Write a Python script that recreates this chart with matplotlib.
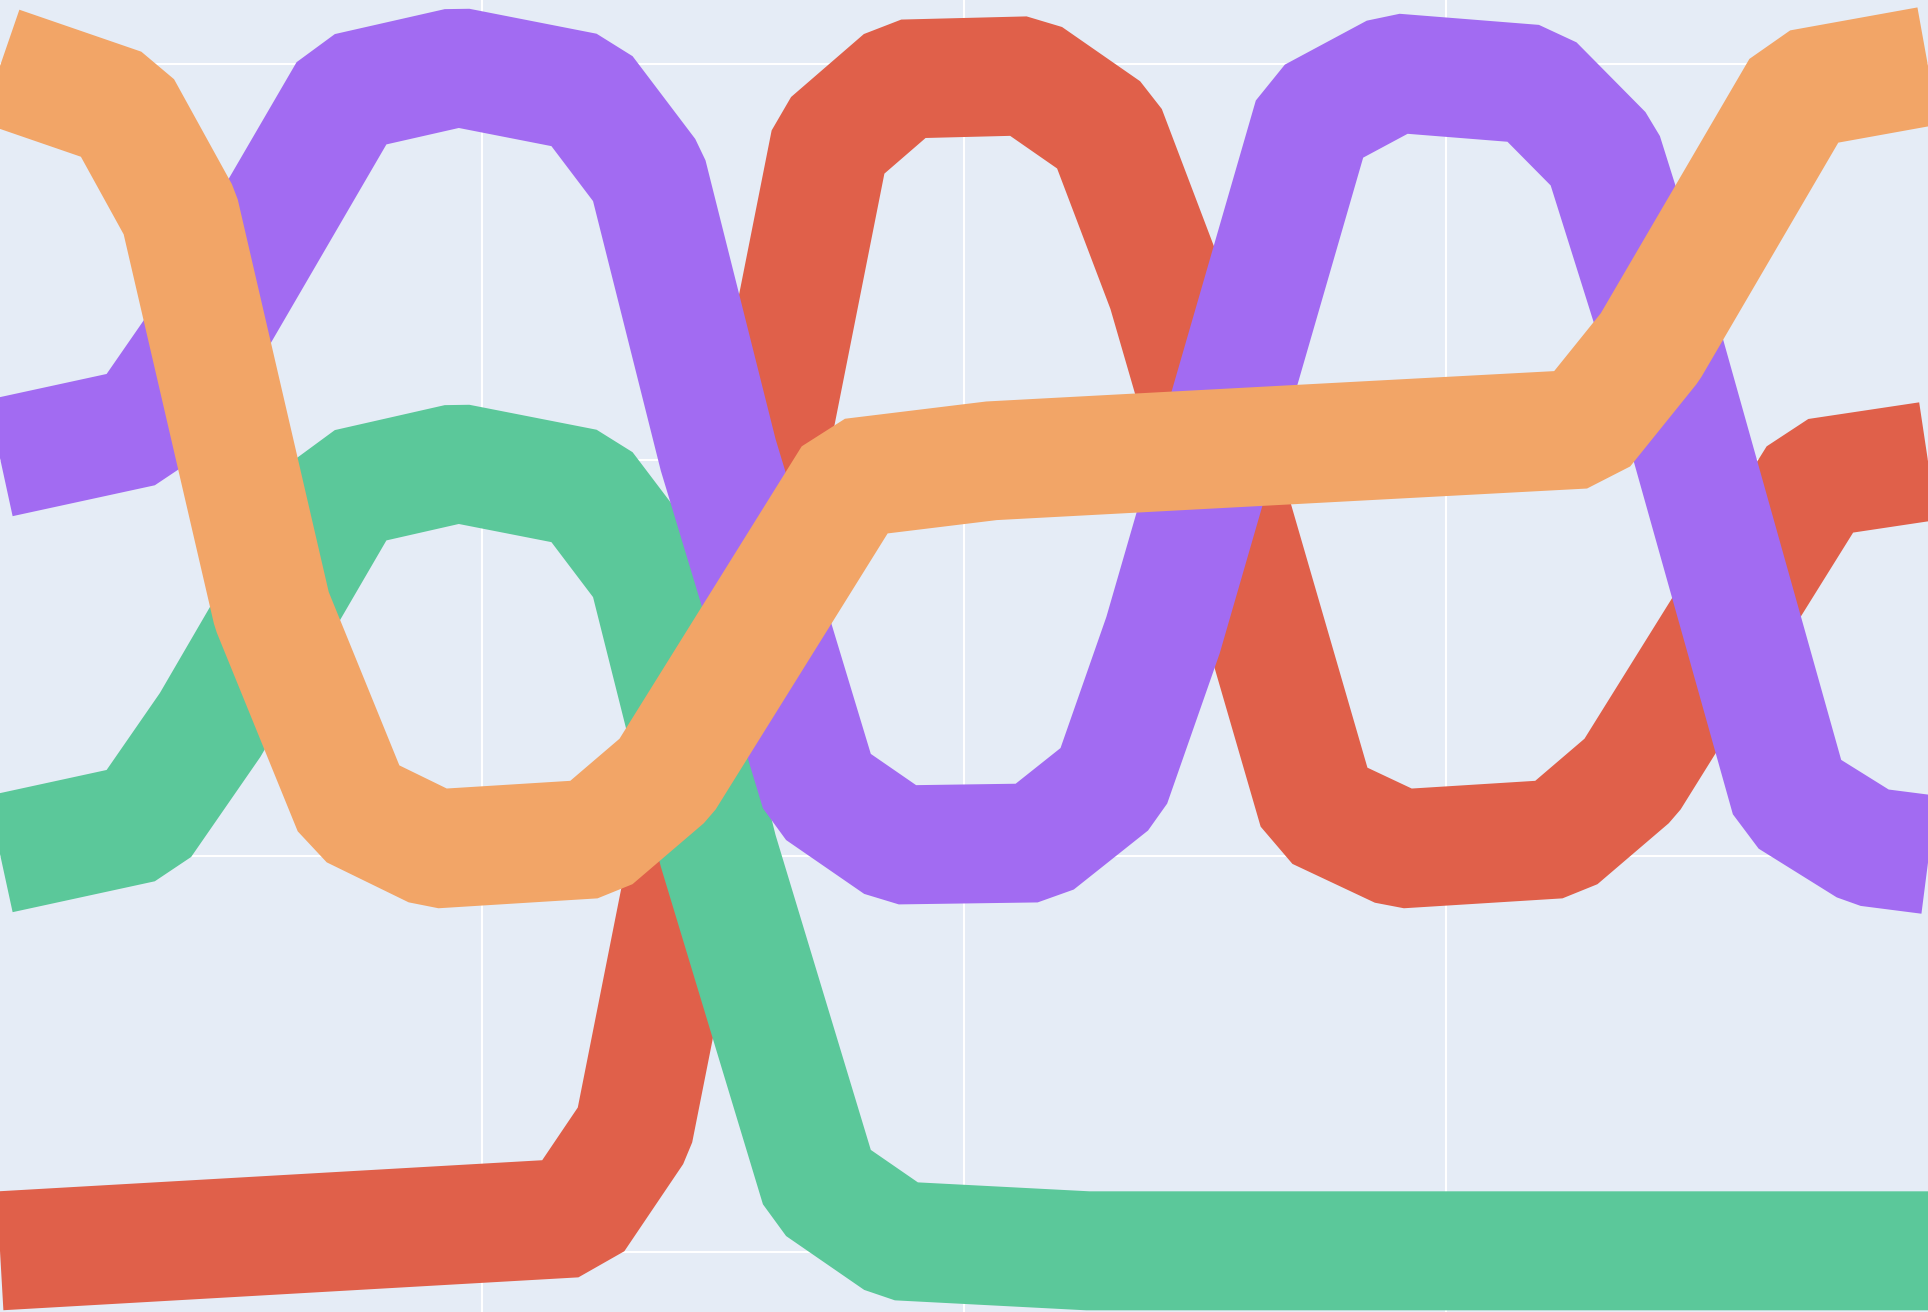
import numpy as np
import matplotlib
matplotlib.use("Agg")
import matplotlib.pyplot as plt

# ── strand vertices (x in grid units 0..4, y in grid units 0..3) ────────────
red_x = [0.000, 1.193, 1.315, 1.722, 1.873, 2.133, 2.295, 2.421, 2.734, 2.905,
         3.234, 3.382, 3.770, 4.000]
red_y = [0.003, 0.086, 0.306, 2.803, 2.962, 2.970, 2.833, 2.429, 1.116, 1.018,
         1.043, 1.197, 1.955, 1.997]

green_x = [0.000, 0.295, 0.436, 0.722, 0.950, 1.214, 1.344, 1.490, 1.701, 1.863,
           2.257, 4.004]
green_y = [1.005, 1.083, 1.331, 1.929, 1.992, 1.929, 1.720, 1.013, 0.164, 0.028,
           0.003, 0.003]

purple_x = [0.000, 0.295, 0.436, 0.722, 0.950, 1.214, 1.344, 1.490, 1.701, 1.863,
            2.151, 2.305, 2.413, 2.724, 2.894, 3.183, 3.326, 3.444, 3.714, 3.876,
            4.004]
purple_y = [2.005, 2.083, 2.331, 2.929, 2.992, 2.929, 2.720, 2.013, 1.164, 1.028,
            1.033, 1.182, 1.558, 2.866, 2.977, 2.949, 2.773, 2.316, 1.146, 1.023,
            1.003]

orange_x = [0.000, 0.253, 0.373, 0.564, 0.732, 0.902, 1.232, 1.380, 1.768, 2.057,
            3.286, 3.423, 3.736, 4.000]
orange_y = [2.995, 2.889, 2.624, 1.621, 1.119, 1.018, 1.043, 1.197, 1.955, 1.998,
            2.078, 2.285, 2.937, 2.995]

# drawing order: bottom to top
strands = [
    (red_x, red_y, "#E0604A"),
    (green_x, green_y, "#5BC89A"),
    (purple_x, purple_y, "#A26BF2"),
    (orange_x, orange_y, "#F2A567"),
]

x_grid = [1, 2, 3]
y_grid = [0, 1, 2, 3]

DPI = 100
fig = plt.figure(figsize=(19.28, 13.12), dpi=DPI)
ax = fig.add_axes([0, 0, 1, 1])
ax.set_facecolor("#E5ECF6")

for gx in x_grid:
    ax.axvline(gx, color="white", lw=1.5, zorder=0)
for gy in y_grid:
    ax.axhline(gy, color="white", lw=1.5, zorder=0)

lw = 119 * 72 / DPI  # band width ~119 px
for i, (xs, ys, c) in enumerate(strands):
    ax.plot(xs, ys, color=c, lw=lw, solid_joinstyle="bevel",
            solid_capstyle="butt", zorder=2 + i)

ax.set_xlim(0, 4)
ax.set_ylim(-0.1515, 3.1616)
ax.set_xticks([])
ax.set_yticks([])
for s in ax.spines.values():
    s.set_visible(False)

fig.savefig("out.png", dpi=DPI)
plt.close(fig)
